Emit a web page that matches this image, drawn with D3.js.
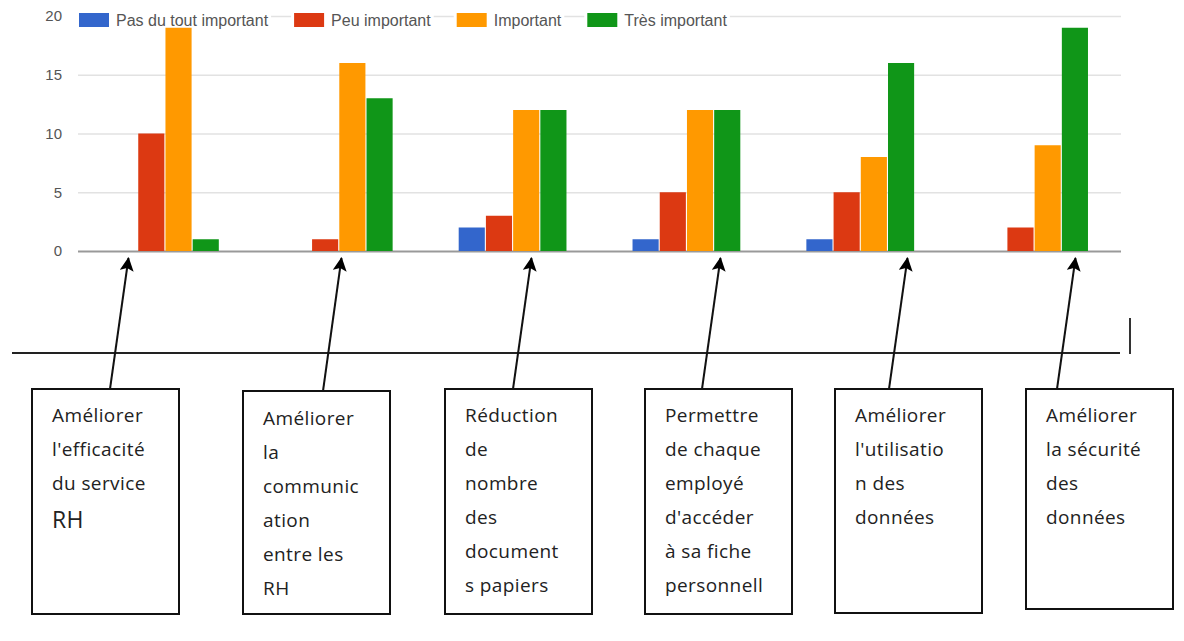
<!DOCTYPE html>
<html>
<head>
<meta charset="utf-8">
<script src="https://cdn.jsdelivr.net/npm/d3@7"></script>
<style>
  body { margin: 0; background: #fff; }
  svg { display: block; }
</style>
</head>
<body>
<svg id="chart" width="1184" height="641"></svg>
<script>
// categories (one per group of bars)
var categories = ["c1", "c2", "c3", "c4", "c5", "c6"]
var series = ["Pas du tout important", "Peu important", "Important", "Très important"]
var colors = ["#3366cc", "#dc3912", "#ff9900", "#109618"]

// answers count per series, in category order
var pasDuTout = [0, 0, 2, 1, 1, 0]
var peu = [10, 1, 3, 5, 5, 2]
var important = [19, 16, 12, 12, 8, 9]
var tres = [1, 13, 12, 12, 16, 19]

var yTicks = [0, 5, 10, 15, 20]

// text of the boxes under the chart
var boxLines = [
  ["Améliorer", "l'efficacité", "du service", "RH"],
  ["Améliorer", "la", "communic", "ation", "entre les", "RH"],
  ["Réduction", "de", "nombre", "des", "document", "s papiers"],
  ["Permettre", "de chaque", "employé", "d'accéder", "à sa fiche", "personnell"],
  ["Améliorer", "l'utilisatio", "n des", "données"],
  ["Améliorer", "la sécurité", "des", "données"]
]

var values = [pasDuTout, peu, important, tres]
var data = categories.map(function (c, i) {
  var row = { label: c }
  series.forEach(function (s, j) { row[s] = values[j][i] })
  return row
})

var svg = d3.select("#chart")
var margin = { top: 16, left: 78, bottom: 251, right: 1121 }

var x0 = d3.scaleBand()
  .domain(categories)
  .range([margin.left, margin.right])
  .paddingInner(0.38)
  .paddingOuter(0.19)

var x1 = d3.scaleBand()
  .domain(series)
  .range([0, x0.bandwidth()])
  .paddingInner(0.04)

var y = d3.scaleLinear()
  .domain([0, 20])
  .range([margin.bottom, margin.top])

var z = d3.scaleOrdinal().domain(series).range(colors)

// grid + tick labels
var yAxis = svg.append("g")
  .attr("class", "y-axis")
  .attr("transform", "translate(" + margin.left + ",0)")
  .call(d3.axisLeft(y).tickValues(yTicks).tickSize(-(margin.right - margin.left)).tickPadding(16))
yAxis.select(".domain").remove()
yAxis.selectAll(".tick line")
  .attr("stroke", d => d === 0 ? "#999" : "#e2e2e2")
  .attr("stroke-width", d => d === 0 ? 2 : 1.5)
yAxis.selectAll(".tick text")
  .attr("fill", "#555")
  .style("font-family", "'Liberation Sans', Arial, sans-serif")
  .style("font-size", "15px")

// legend, sitting on the top grid line
var legend = svg.append("g").attr("class", "legend")
var lx = 79
series.forEach(function (s, i) {
  var item = legend.append("g").attr("transform", "translate(" + lx + ",0)")
  var bg = item.append("rect").attr("fill", "#fff").attr("y", 10).attr("height", 18)
  item.append("rect")
    .attr("x", 0).attr("y", 13)
    .attr("width", 30).attr("height", 14)
    .attr("fill", colors[i])
  var t = item.append("text")
    .attr("x", 37).attr("y", 26)
    .attr("fill", "#555")
    .style("font-family", "'Liberation Sans', Arial, sans-serif")
    .style("font-size", "16px")
    .text(s)
  var w = 37 + t.node().getComputedTextLength()
  bg.attr("x", -3).attr("width", w + 6)
  lx += w + 26
})

// bars
var groups = svg.append("g").selectAll("g")
  .data(data)
  .enter().append("g")
  .attr("transform", d => "translate(" + x0(d.label) + ",0)")

groups.selectAll("rect")
  .data(d => series.map(s => ({ key: s, value: d[s] })))
  .enter().append("rect")
  .attr("x", d => x1(d.key))
  .attr("y", d => y(d.value))
  .attr("width", x1.bandwidth())
  .attr("height", d => y(0) - y(d.value))
  .attr("fill", d => z(d.key))

// annotation: separator line, arrows and boxes
var ann = svg.append("g").attr("class", "annotation")
ann.append("line")
  .attr("x1", 12).attr("x2", 1120).attr("y1", 353).attr("y2", 353)
  .attr("stroke", "#222").attr("stroke-width", 2)
ann.append("line")
  .attr("x1", 1130).attr("x2", 1130).attr("y1", 318).attr("y2", 354)
  .attr("stroke", "#333").attr("stroke-width", 2)

var boxLeft = [32, 243, 445, 645, 835, 1026]
var boxTop = [389, 391, 389, 389, 389, 389]
var boxBottom = [614, 614, 614, 614, 613, 609]
var arrowTail = [110, 323, 513, 702, 889, 1057]

svg.append("defs").append("marker")
  .attr("id", "head")
  .attr("viewBox", "0 0 14 14")
  .attr("refX", 13).attr("refY", 7)
  .attr("markerWidth", 14).attr("markerHeight", 14)
  .attr("markerUnits", "userSpaceOnUse")
  .attr("orient", "auto")
  .append("path")
  .attr("d", "M0,0 L14,7 L0,14 L3,7 Z")
  .attr("fill", "#000")

boxLines.forEach(function (lines, i) {
  var tx = arrowTail[i], ty = boxTop[i]
  ann.append("line")
    .attr("x1", tx).attr("y1", ty)
    .attr("x2", tx + 18.5).attr("y2", 258)
    .attr("stroke", "#111").attr("stroke-width", 2)
    .attr("marker-end", "url(#head)")

  ann.append("rect")
    .attr("x", boxLeft[i]).attr("y", boxTop[i])
    .attr("width", 147).attr("height", boxBottom[i] - boxTop[i])
    .attr("fill", "#fff").attr("stroke", "#111").attr("stroke-width", 2)

  ann.append("g").selectAll("text")
    .data(lines)
    .enter().append("text")
    .attr("x", boxLeft[i] + 20)
    .attr("y", (d, j) => 422 + j * 34 + (i === 1 ? 3 : 0) + (i === 0 && j === 3 ? 4 : 0))
    .attr("fill", "#222")
    .style("font-family", "'Open Sans', sans-serif")
    .style("font-size", (d, j) => (i === 0 && j === 3) ? "23px" : "19px")
    .style("letter-spacing", "0.4px")
    .text(d => d)
})
</script>
</body>
</html>
